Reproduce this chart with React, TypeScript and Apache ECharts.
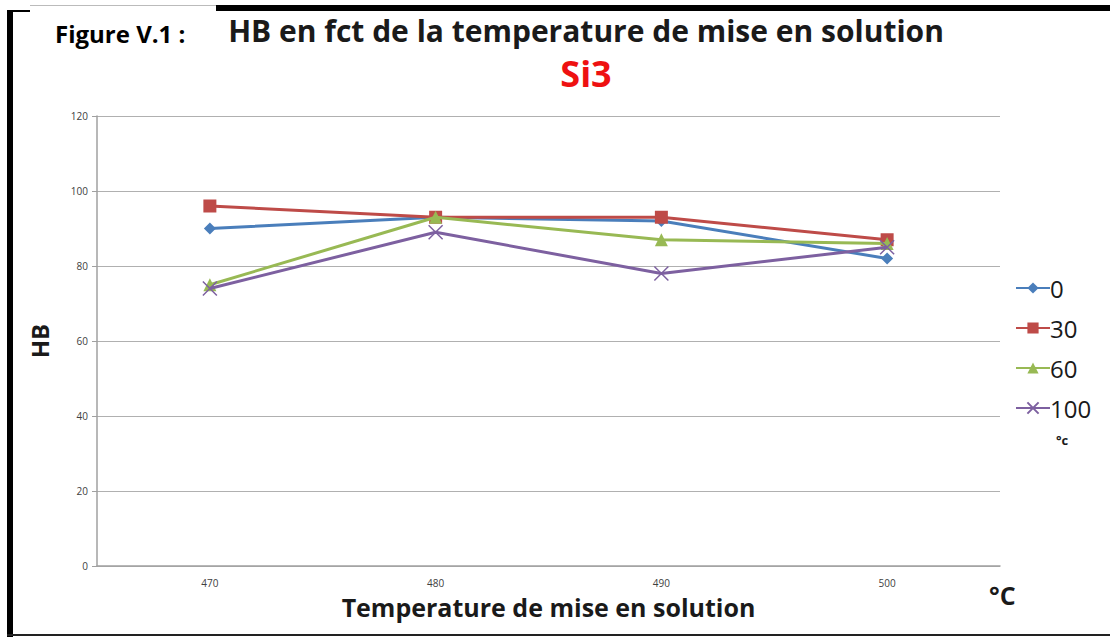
import React, { useEffect, useRef } from "react";
import * as echarts from "echarts";

const categories = ["470", "480", "490", "500"];
const seriesNames = ["0", "30", "60", "100"];
const s0 = [90, 93, 92, 82];
const s30 = [96, 93, 93, 87];
const s60 = [75, 93, 87, 86];
const s100 = [74, 89, 78, 85];
const colors = ["#4a7ebb", "#be4b48", "#98b954", "#7d60a0"];
const symbols = ["diamond", "rect", "triangle", "path://M0,0L10,10M10,0L0,10"];
const symbolSizes = [12, 13, 13, 14];

export default function App() {
  const ref = useRef<HTMLDivElement>(null);
  useEffect(() => {
    document.body.style.margin = "0";
    const chart = echarts.init(ref.current!, null, { renderer: "svg" });
    const data = [s0, s30, s60, s100];
    const font = "'Open Sans', Lato, sans-serif";
    chart.setOption({
      animation: false,
      backgroundColor: "#ffffff",
      textStyle: { fontFamily: font },
      title: [
        {
          text: "HB en fct de la temperature de mise en solution",
          left: 581,
          top: 10,
          textAlign: "center",
          textStyle: { fontSize: 30, fontWeight: "bold", color: "#1a1a1a", fontFamily: font },
        },
        {
          text: "Si3",
          left: 581,
          top: 50,
          textAlign: "center",
          textStyle: { fontSize: 36, fontWeight: "bold", color: "#ee1111", fontFamily: font },
        },
        {
          text: "Figure V.1 :",
          left: 50,
          top: 16,
          textStyle: { fontSize: 24, fontWeight: "bold", color: "#000000", fontFamily: font },
        },
      ],
      legend: {
        orient: "vertical",
        left: 1010,
        top: 270,
        itemGap: 14,
        itemWidth: 34,
        itemHeight: 14,
        data: seriesNames,
        textStyle: {
          fontSize: 24,
          lineHeight: 26,
          verticalAlign: "middle",
          color: "#1a1a1a",
          padding: [0, 0, 0, -5],
        },
      },
      grid: { left: 97, right: 110, top: 116, bottom: 71, containLabel: false },
      xAxis: {
        type: "category",
        data: categories,
        boundaryGap: true,
        name: "Temperature de mise en solution",
        nameLocation: "middle",
        nameGap: 28,
        nameTextStyle: { fontSize: 25, fontWeight: "bold", color: "#1a1a1a" },
        axisLine: { lineStyle: { color: "#a0a0a0", width: 1.5 } },
        axisTick: { show: false },
        axisLabel: { fontSize: 10, color: "#404040", margin: 12 },
      },
      yAxis: {
        type: "value",
        min: 0,
        max: 120,
        interval: 20,
        name: "HB",
        nameLocation: "middle",
        nameRotate: 90,
        nameGap: 46,
        nameTextStyle: { fontSize: 24, fontWeight: "bold", color: "#1a1a1a" },
        axisLine: { show: true, lineStyle: { color: "#a0a0a0", width: 1.5 } },
        axisTick: { show: true, length: 5, lineStyle: { color: "#a0a0a0" } },
        axisLabel: { fontSize: 10, color: "#404040", margin: 9 },
        splitLine: { lineStyle: { color: "#b0b0b0", width: 1.2 } },
      },
      series: seriesNames.map((n, i) => ({
        name: n,
        type: "line",
        data: data[i],
        symbol: symbols[i],
        symbolSize: symbolSizes[i],
        lineStyle: { color: colors[i], width: 3 },
        itemStyle: {
          color: colors[i],
          borderColor: colors[i],
          borderWidth: i === 3 ? 1.5 : 0,
        },
        z: 2 + i,
      })),
      graphic: [
        { type: "rect", shape: { x: 7, y: 10, width: 6, height: 627 }, style: { fill: "#000000" } },
        { type: "rect", shape: { x: 7, y: 10, width: 23, height: 2 }, style: { fill: "#000000" } },
        { type: "rect", shape: { x: 30, y: 5, width: 186, height: 1 }, style: { fill: "#bbbbbb" } },
        { type: "rect", shape: { x: 216, y: 5, width: 894, height: 6 }, style: { fill: "#000000" } },
        { type: "rect", shape: { x: 7, y: 634, width: 1103, height: 2 }, style: { fill: "#222222" } },
        {
          type: "text",
          left: 1056,
          top: 433,
          style: { text: "°c", fontSize: 13, fontWeight: "bold", fill: "#1a1a1a", fontFamily: font },
        },
        {
          type: "text",
          left: 989,
          top: 582,
          style: { text: "°C", fontSize: 25, fontWeight: "bold", fill: "#1a1a1a", fontFamily: font },
        },
      ],
    });
    return () => chart.dispose();
  }, []);
  return <div ref={ref} style={{ width: 1110, height: 637 }} />;
}
